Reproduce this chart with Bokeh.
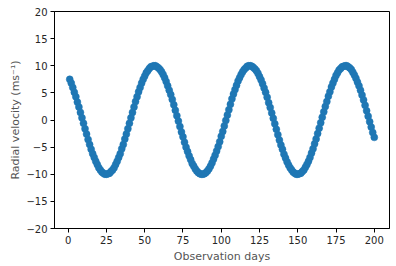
from bokeh.plotting import figure
from bokeh.models import ColumnDataSource, Range1d, FixedTicker
from bokeh.embed import file_html
from bokeh.resources import INLINE

# Observation days
days = list(range(1, 201))

# Radial velocity (m/s)
rv = [
    7.5, 6.8, 6.0, 5.1, 4.3, 3.3, 2.4, 1.4, 0.4, -0.6,
    -1.6, -2.6, -3.6, -4.5, -5.4, -6.2, -6.9, -7.6, -8.2, -8.8,
    -9.2, -9.6, -9.8, -10.0, -10.0, -9.9, -9.8, -9.5, -9.2, -8.8,
    -8.2, -7.6, -6.9, -6.2, -5.3, -4.5, -3.5, -2.6, -1.6, -0.6,
    0.4, 1.4, 2.4, 3.4, 4.3, 5.2, 6.0, 6.8, 7.5, 8.1,
    8.7, 9.1, 9.5, 9.8, 9.9, 10.0, 10.0, 9.8, 9.6, 9.3,
    8.9, 8.4, 7.8, 7.1, 6.3, 5.5, 4.7, 3.8, 2.8, 1.8,
    0.8, -0.2, -1.2, -2.2, -3.1, -4.1, -5.0, -5.8, -6.6, -7.3,
    -8.0, -8.5, -9.0, -9.4, -9.7, -9.9, -10.0, -10.0, -9.9, -9.7,
    -9.4, -9.0, -8.5, -7.9, -7.2, -6.5, -5.7, -4.9, -4.0, -3.0,
    -2.1, -1.1, -0.1, 0.9, 1.9, 2.9, 3.9, 4.8, 5.6, 6.4,
    7.2, 7.8, 8.4, 8.9, 9.3, 9.6, 9.9, 10.0, 10.0, 9.9,
    9.7, 9.4, 9.1, 8.6, 8.0, 7.4, 6.7, 5.9, 5.1, 4.2,
    3.2, 2.3, 1.3, 0.3, -0.7, -1.7, -2.7, -3.7, -4.6, -5.4,
    -6.3, -7.0, -7.7, -8.3, -8.8, -9.2, -9.6, -9.8, -10.0, -10.0,
    -9.9, -9.8, -9.5, -9.2, -8.7, -8.2, -7.6, -6.9, -6.1, -5.3,
    -4.4, -3.5, -2.5, -1.5, -0.5, 0.5, 1.5, 2.5, 3.4, 4.4,
    5.2, 6.1, 6.8, 7.5, 8.2, 8.7, 9.2, 9.5, 9.8, 9.9,
    10.0, 10.0, 9.8, 9.6, 9.3, 8.8, 8.3, 7.7, 7.0, 6.3,
    5.5, 4.6, 3.7, 2.7, 1.7, 0.7, -0.3, -1.3, -2.3, -3.2,
]

x_ticks = [0, 25, 50, 75, 100, 125, 150, 175, 200]
y_ticks = [-20, -15, -10, -5, 0, 5, 10, 15, 20]
x_label = "Observation days"
y_label = "Radial velocity (ms\u207b\u00b9)"

source = ColumnDataSource(data=dict(day=days, rv=rv))

p = figure(
    width=396, height=266,
    output_backend="svg", toolbar_location=None,
    x_range=Range1d(-8.95, 209.95), y_range=Range1d(-20, 20),
    min_border_left=54, min_border_right=7, min_border_top=11, min_border_bottom=38,
    background_fill_color="white", border_fill_color="white",
)

p.scatter(x="day", y="rv", source=source, size=7,
          fill_color="#1f77b4", line_color="#1f77b4", line_width=0.5)

p.grid.visible = False
p.outline_line_color = "black"
p.outline_line_width = 1

p.xaxis.ticker = FixedTicker(ticks=x_ticks)
p.yaxis.ticker = FixedTicker(ticks=y_ticks)
p.yaxis.major_label_overrides = {t: (str(t).replace("-", "\u2212")) for t in y_ticks}
p.xaxis.axis_label = x_label
p.yaxis.axis_label = y_label

for ax in (p.xaxis, p.yaxis):
    ax.axis_line_color = "black"
    ax.axis_line_width = 1
    ax.major_tick_line_color = "black"
    ax.major_tick_line_width = 1
    ax.major_tick_out = 4
    ax.major_tick_in = 0
    ax.minor_tick_line_color = None
    ax.major_label_text_font = "DejaVu Sans"
    ax.major_label_text_font_size = "10px"
    ax.major_label_text_color = "#262626"
    ax.major_label_standoff = 3
    ax.axis_label_text_font = "DejaVu Sans"
    ax.axis_label_text_font_size = "11px"
    ax.axis_label_text_font_style = "normal"
    ax.axis_label_text_color = "#555555"

p.xaxis.axis_label_standoff = 3
p.yaxis.axis_label_standoff = 1

open("out.html", "w").write(file_html(p, INLINE))
